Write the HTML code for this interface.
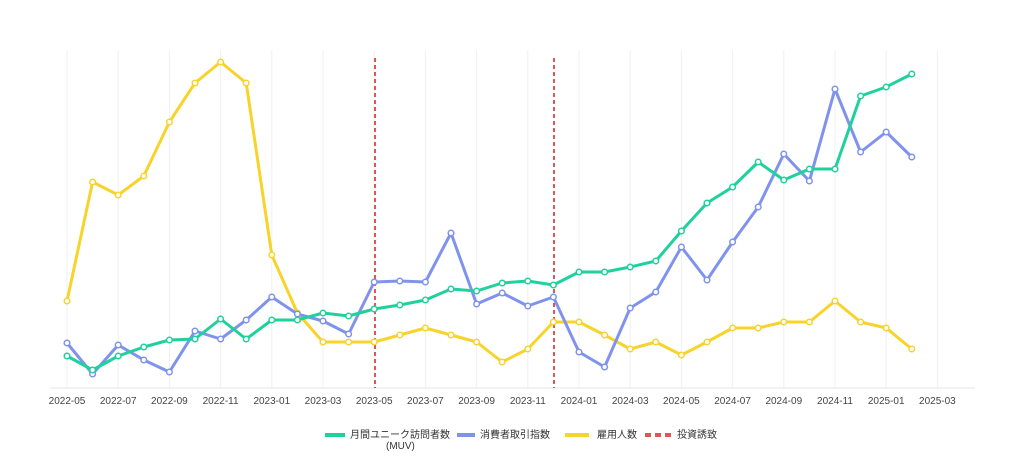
<!DOCTYPE html>
<html><head><meta charset="utf-8"><style>
body{margin:0;background:#fff;width:1024px;height:468px;overflow:hidden;font-family:"Liberation Sans","Noto Sans CJK JP",sans-serif}
</style></head><body>
<svg width="1024" height="468" xmlns="http://www.w3.org/2000/svg" font-family="Liberation Sans, Noto Sans CJK JP, sans-serif">
<g id="grid" stroke="#f0f0f0" stroke-width="1"></g>
<line x1="50" y1="388" x2="975" y2="388" stroke="#e6e6e6"/>
<line x1="375" y1="58" x2="375" y2="388" stroke="#e05555" stroke-width="2" stroke-dasharray="4,3"/>
<line x1="554" y1="58" x2="554" y2="388" stroke="#e05555" stroke-width="2" stroke-dasharray="4,3"/>
<g id="labels" font-size="10" fill="#444" text-anchor="middle"></g>
<g id="series"></g>
<g font-size="10" fill="#333">
<rect x="325" y="433" width="20" height="4" fill="#1fd19c"/>
<text x="350" y="438">月間ユニーク訪問者数</text>
<text x="386" y="449">(MUV)</text>
<rect x="457" y="433" width="18" height="4" fill="#7f93ee"/>
<text x="480" y="438">消費者取引指数</text>
<rect x="565" y="433" width="24" height="4" fill="#f8d32b"/>
<text x="597" y="438">雇用人数</text>
<rect x="645" y="433" width="6" height="4" fill="#e05555"/><rect x="655" y="433" width="6" height="4" fill="#e05555"/><rect x="665" y="433" width="6" height="4" fill="#e05555"/>
<text x="677" y="438">投資誘致</text>
</g>
</svg>
<script>
const X=i=>67+25.6*i;
const ns="http://www.w3.org/2000/svg";
const labs=["2022-05","2022-07","2022-09","2022-11","2023-01","2023-03","2023-05","2023-07","2023-09","2023-11","2024-01","2024-03","2024-05","2024-07","2024-09","2024-11","2025-01","2025-03"];
const g=document.getElementById('grid'),L=document.getElementById('labels');
labs.forEach((t,k)=>{const x=X(2*k);
let l=document.createElementNS(ns,'line');l.setAttribute('x1',x);l.setAttribute('x2',x);l.setAttribute('y1',50);l.setAttribute('y2',388);g.appendChild(l);
let tx=document.createElementNS(ns,'text');tx.setAttribute('x',x);tx.setAttribute('y',404);tx.textContent=t;L.appendChild(tx);});
const S=[
["#f8d32b",[301,182,195,176,122,83,62,83,255,313,342,342,342,335,328,335,342,362,349,322,322,335,349,342,355,342,328,328,322,322,301,322,328,349]],
["#7f93ee",[343,374,345,360,372,331,339,320,297,314,321,334,282,281,282,233,304,293,306,297,352,367,308,292,247,280,242,207,154,181,89,152,132,157]],
["#1fd19c",[356,370,356,347,340,339,319,339,320,320,313,316,309,305,300,289,291,283,281,285,272,272,267,261,231,203,187,162,180,169,169,96,87,74]]];
const sg=document.getElementById('series');
S.forEach(([c,d])=>{let p=document.createElementNS(ns,'polyline');
p.setAttribute('points',d.map((y,i)=>X(i)+','+y).join(' '));p.setAttribute('fill','none');p.setAttribute('stroke',c);p.setAttribute('stroke-width',3);p.setAttribute('stroke-linejoin','round');sg.appendChild(p);
d.forEach((y,i)=>{let ci=document.createElementNS(ns,'circle');ci.setAttribute('cx',X(i));ci.setAttribute('cy',y);ci.setAttribute('r',2.8);ci.setAttribute('fill','#fff');ci.setAttribute('stroke',c);ci.setAttribute('stroke-width',1.5);sg.appendChild(ci);});});
</script>
</body></html>
